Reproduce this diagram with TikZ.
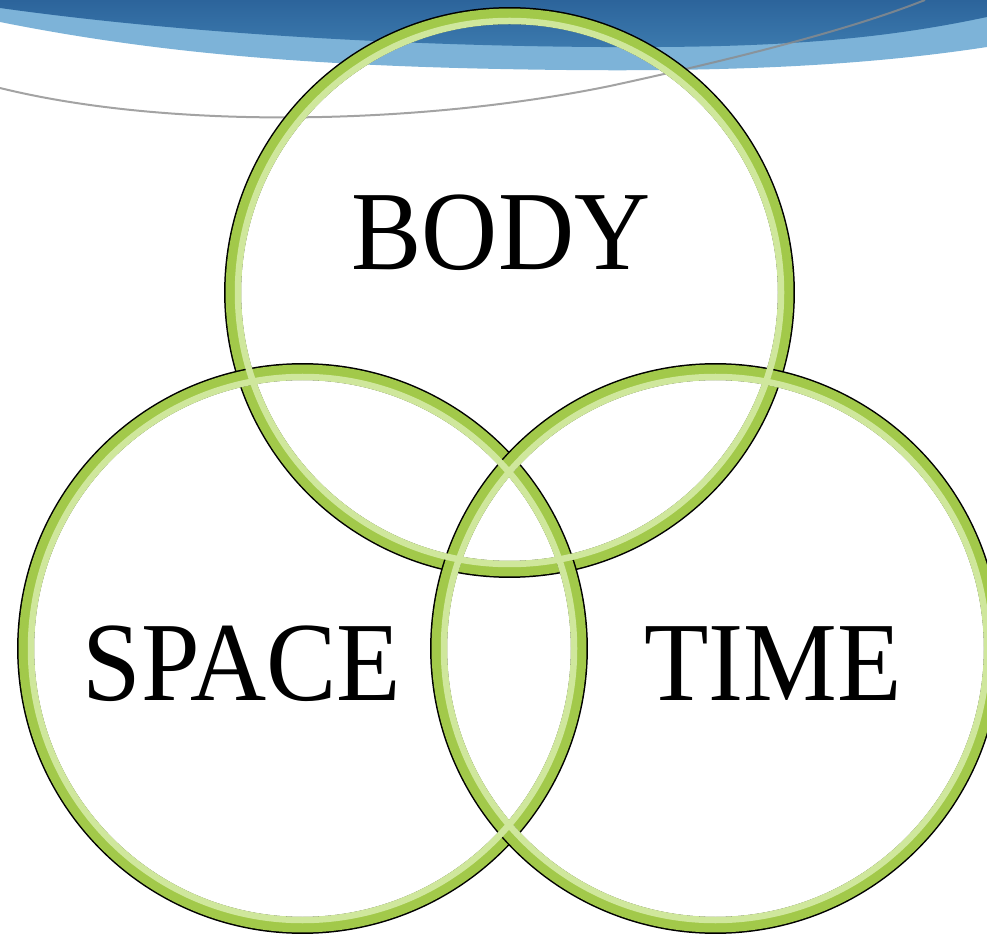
\documentclass[tikz,border=0pt]{standalone}
\usepackage{fontspec}
\setmainfont{Liberation Serif}
\usetikzlibrary{positioning}

\definecolor{bandDark}{HTML}{3C7AAE}
\definecolor{bandTop}{HTML}{2C649B}
\definecolor{bandLight}{HTML}{7DB3D8}
\definecolor{ringGreen}{HTML}{A2C94A}
\definecolor{ringLight}{HTML}{CFE79C}

\begin{document}
\begin{tikzpicture}[
    x=0.02cm, y=-0.02cm,
    ring/.style={circle, inner sep=0pt, minimum size=11.08cm,
        preaction={draw=black, line width=0.34cm},
        draw=ringGreen, line width=0.28cm},
    word/.style={anchor=base, inner sep=0pt, font=\fontsize{60}{60}\selectfont}
]
    \useasboundingbox (0,0) rectangle (987,935);
    \clip (0,0) rectangle (987,935);

    % Header band
    \fill[bandLight] (0,0) -- (987,0) -- (987,47)
        .. controls (850,68) and (700,73) .. (500,69)
        .. controls (300,65) and (150,52) .. (0,22) -- cycle;
    \shade[top color=bandTop, bottom color=bandDark] (0,0) -- (987,0) -- (987,17)
        .. controls (870,42) and (760,48) .. (600,47)
        .. controls (430,46) and (200,36) .. (0,8) -- cycle;
    \draw[black!45, opacity=0.8, line width=0.04cm] (0,88)
        .. controls (170,130) and (420,125) .. (610,86)
        .. controls (730,60) and (850,30) .. (925,0);

    % Rings
    \node[ring] (bodyring) at (509.5,292.5) {};
    \node[ring] (spacering) at (302.5,648.5) {};
    \node[ring] (timering) at (715.5,648.5) {};
    \foreach \r in {bodyring,spacering,timering}
        \draw[ringLight, line width=0.13cm] (\r.center) circle[radius=271.5];

    % Labels
    \node[word] (body) at (501,270) {\scalebox{1}[1.07]{BODY}};
    \node[word] (space) at (242,700) {\scalebox{1}[1.07]{SPACE}};
    \node[word] (time) at (773,700) {\scalebox{1}[1.07]{TIME}};
\end{tikzpicture}
\end{document}
